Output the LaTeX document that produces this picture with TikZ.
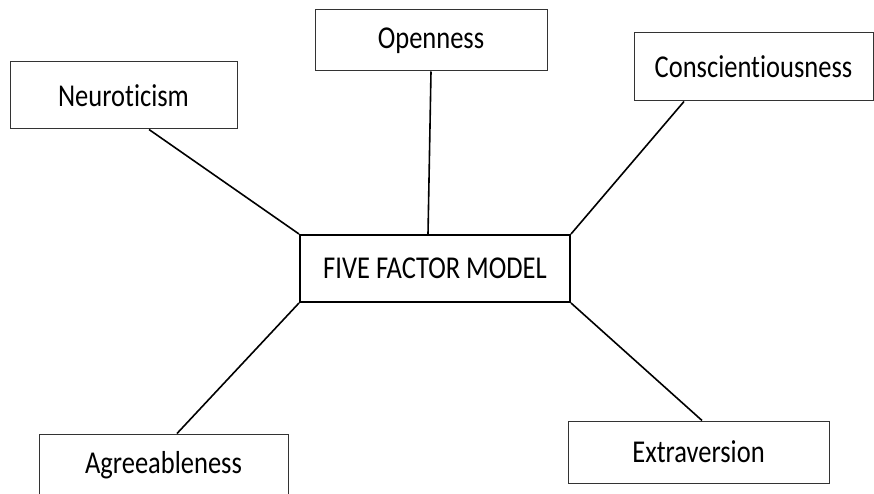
\documentclass[tikz,border=0pt]{standalone}
\usepackage{fontspec}
\usepackage{graphicx}
\setmainfont[Ligatures=NoCommon]{Carlito}
\newcommand{\tall}[1]{\scalebox{1}[1.2]{#1}}
\begin{document}
\begin{tikzpicture}[x=1pt,y=1pt,
    trait/.style={draw=black!80, line width=1pt, inner sep=0pt, font=\fontsize{26.5}{30}\selectfont},
    core/.style={draw=black, line width=2pt, inner sep=0pt, font=\fontsize{26.5}{30}\selectfont},
    link/.style={line width=1.6pt}]
            \useasboundingbox (0,0) rectangle (874,493);
            \node[core, minimum width=270pt, minimum height=67pt] (model) at (435,224.5) {\tall{FIVE FACTOR MODEL}};
            \node[trait, minimum width=227pt, minimum height=67pt] (neuro) at (123.5,397.5) {\tall{Neuroticism}};
            \node[trait, minimum width=232pt, minimum height=61pt] (open) at (431,452.5) {\tall{Openness}};
            \node[trait, minimum width=239pt, minimum height=68pt] (consc) at (753.5,426) {\tall{Conscientiousness}};
            \node[trait, minimum width=249pt, minimum height=62pt] (agree) at (163.5,28) {\tall{Agreeableness}};
            \node[trait, minimum width=261pt, minimum height=62pt] (extra) at (698.5,41) {\tall{Extraversion}};
            \draw[link] ([xshift=25.5pt]neuro.south) -- (model.north west);
            \draw[link] (open.south) -- ([xshift=-7pt]model.north);
            \draw[link] ([xshift=-69.5pt]consc.south) -- (model.north east);
            \draw[link] ([xshift=13.5pt]agree.north) -- (model.south west);
            \draw[link] (model.south east) -- ([xshift=3.5pt]extra.north);
\end{tikzpicture}
\end{document}
